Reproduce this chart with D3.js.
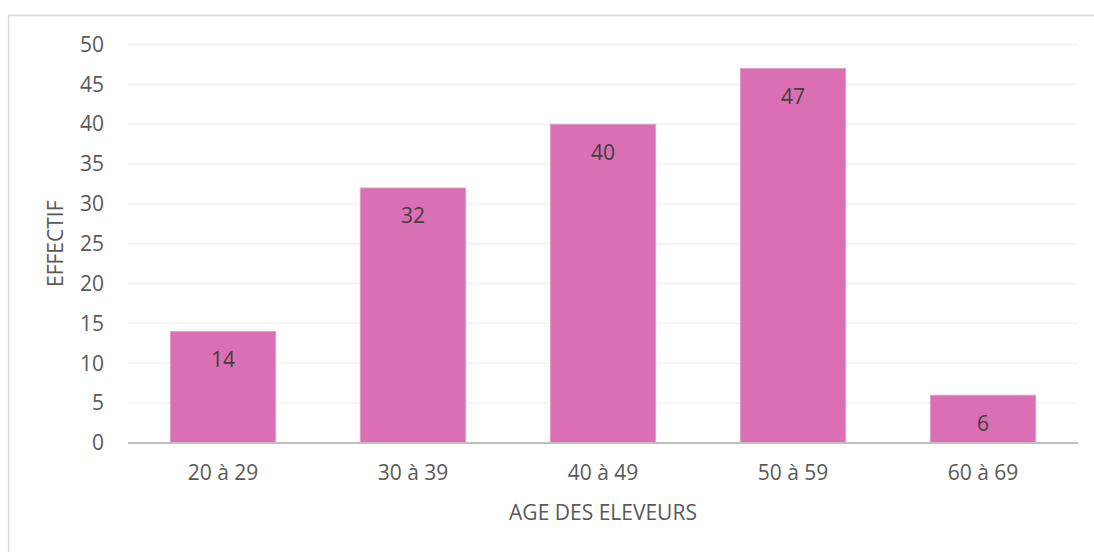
<!DOCTYPE html>
<html>
<head>
<meta charset="utf-8">
<script src="https://cdn.jsdelivr.net/npm/d3@7"></script>
<style>
  html, body { margin: 0; padding: 0; background: #fff; }
  svg { display: block; font-family: "Open Sans", sans-serif; }
</style>
</head>
<body>
<svg id="chart" width="1094" height="552"></svg>
<script>
// data
var categories = ['20 à 29', '30 à 39', '40 à 49', '50 à 59', '60 à 69'];
var effectifs = [14, 32, 40, 47, 6];
var yTicks = [0, 5, 10, 15, 20, 25, 30, 35, 40, 45, 50];
var xTitle = 'AGE DES ELEVEURS';
var yTitle = 'EFFECTIF';

var width = 1094,
    height = 552,
    margin = {top: 44.5, right: 16, bottom: 109, left: 128},
    fontSize = '21px';

var svg = d3.select('#chart');

// outer frame (runs off the right and bottom edge)
svg.append('rect')
  .attr('x', 8.5)
  .attr('y', 15.5)
  .attr('width', 1200)
  .attr('height', 700)
  .attr('fill', 'none')
  .attr('stroke', '#d9d9d9')
  .attr('stroke-width', 1.5);

var xScale = d3.scaleBand()
  .domain(categories)
  .range([margin.left, width - margin.right])
  .paddingInner(0.445)
  .paddingOuter(0.2225);

var yScale = d3.scaleLinear()
  .domain([0, 50])
  .range([height - margin.bottom, margin.top]);

// gridlines
svg.append('g')
  .selectAll('line')
  .data(yTicks.filter(function(d){ return d > 0; }))
  .enter()
  .append('line')
  .attr('x1', margin.left)
  .attr('x2', width - margin.right)
  .attr('y1', function(d){ return yScale(d); })
  .attr('y2', function(d){ return yScale(d); })
  .attr('stroke', '#efefef')
  .attr('stroke-width', 1.3);

// y tick labels
var yAxis = d3.axisLeft(yScale)
  .tickValues(yTicks)
  .tickSize(0)
  .tickPadding(24);

var gy = svg.append('g')
  .attr('transform', `translate(${margin.left}, 0)`)
  .call(yAxis);
gy.select('.domain').remove();
gy.selectAll('text')
  .attr('fill', '#595959')
  .style('font-size', fontSize)
  .style('font-family', '"Open Sans", sans-serif');

// bars
svg.append('g')
  .selectAll('rect')
  .data(effectifs)
  .enter()
  .append('rect')
  .attr('x', function(d, i){ return xScale(categories[i]); })
  .attr('y', function(d){ return yScale(d); })
  .attr('width', xScale.bandwidth())
  .attr('height', function(d){ return yScale(0) - yScale(d); })
  .attr('fill', '#da6fb4')
  .attr('stroke', '#e89ccc')
  .attr('stroke-width', 0.8);

// value labels inside the top of the bars
svg.append('g')
  .selectAll('text')
  .data(effectifs)
  .enter()
  .append('text')
  .attr('x', function(d, i){ return xScale(categories[i]) + xScale.bandwidth() / 2; })
  .attr('y', function(d){ return yScale(d) + 28; })
  .attr('dy', '0.35em')
  .attr('text-anchor', 'middle')
  .attr('fill', '#404040')
  .style('font-size', fontSize)
  .text(function(d){ return d; });

// x axis
var xAxis = d3.axisBottom(xScale)
  .tickSize(0)
  .tickPadding(22);

var gx = svg.append('g')
  .attr('transform', `translate(0, ${yScale(0)})`)
  .call(xAxis);
gx.select('.domain')
  .attr('d', `M${margin.left},0H${width - margin.right}`)
  .attr('stroke', '#bfbfbf')
  .attr('stroke-width', 2.2);
gx.selectAll('text')
  .attr('fill', '#595959')
  .style('font-size', fontSize)
  .style('font-family', '"Open Sans", sans-serif');

// axis titles
svg.append('text')
  .attr('x', (margin.left + width - margin.right) / 2)
  .attr('y', 520)
  .attr('text-anchor', 'middle')
  .attr('fill', '#595959')
  .style('font-size', fontSize)
  .text(xTitle);

svg.append('text')
  .attr('transform', `translate(63, ${yScale(25)}) rotate(-90)`)
  .attr('text-anchor', 'middle')
  .attr('fill', '#595959')
  .style('font-size', fontSize)
  .text(yTitle);
</script>
</body>
</html>
